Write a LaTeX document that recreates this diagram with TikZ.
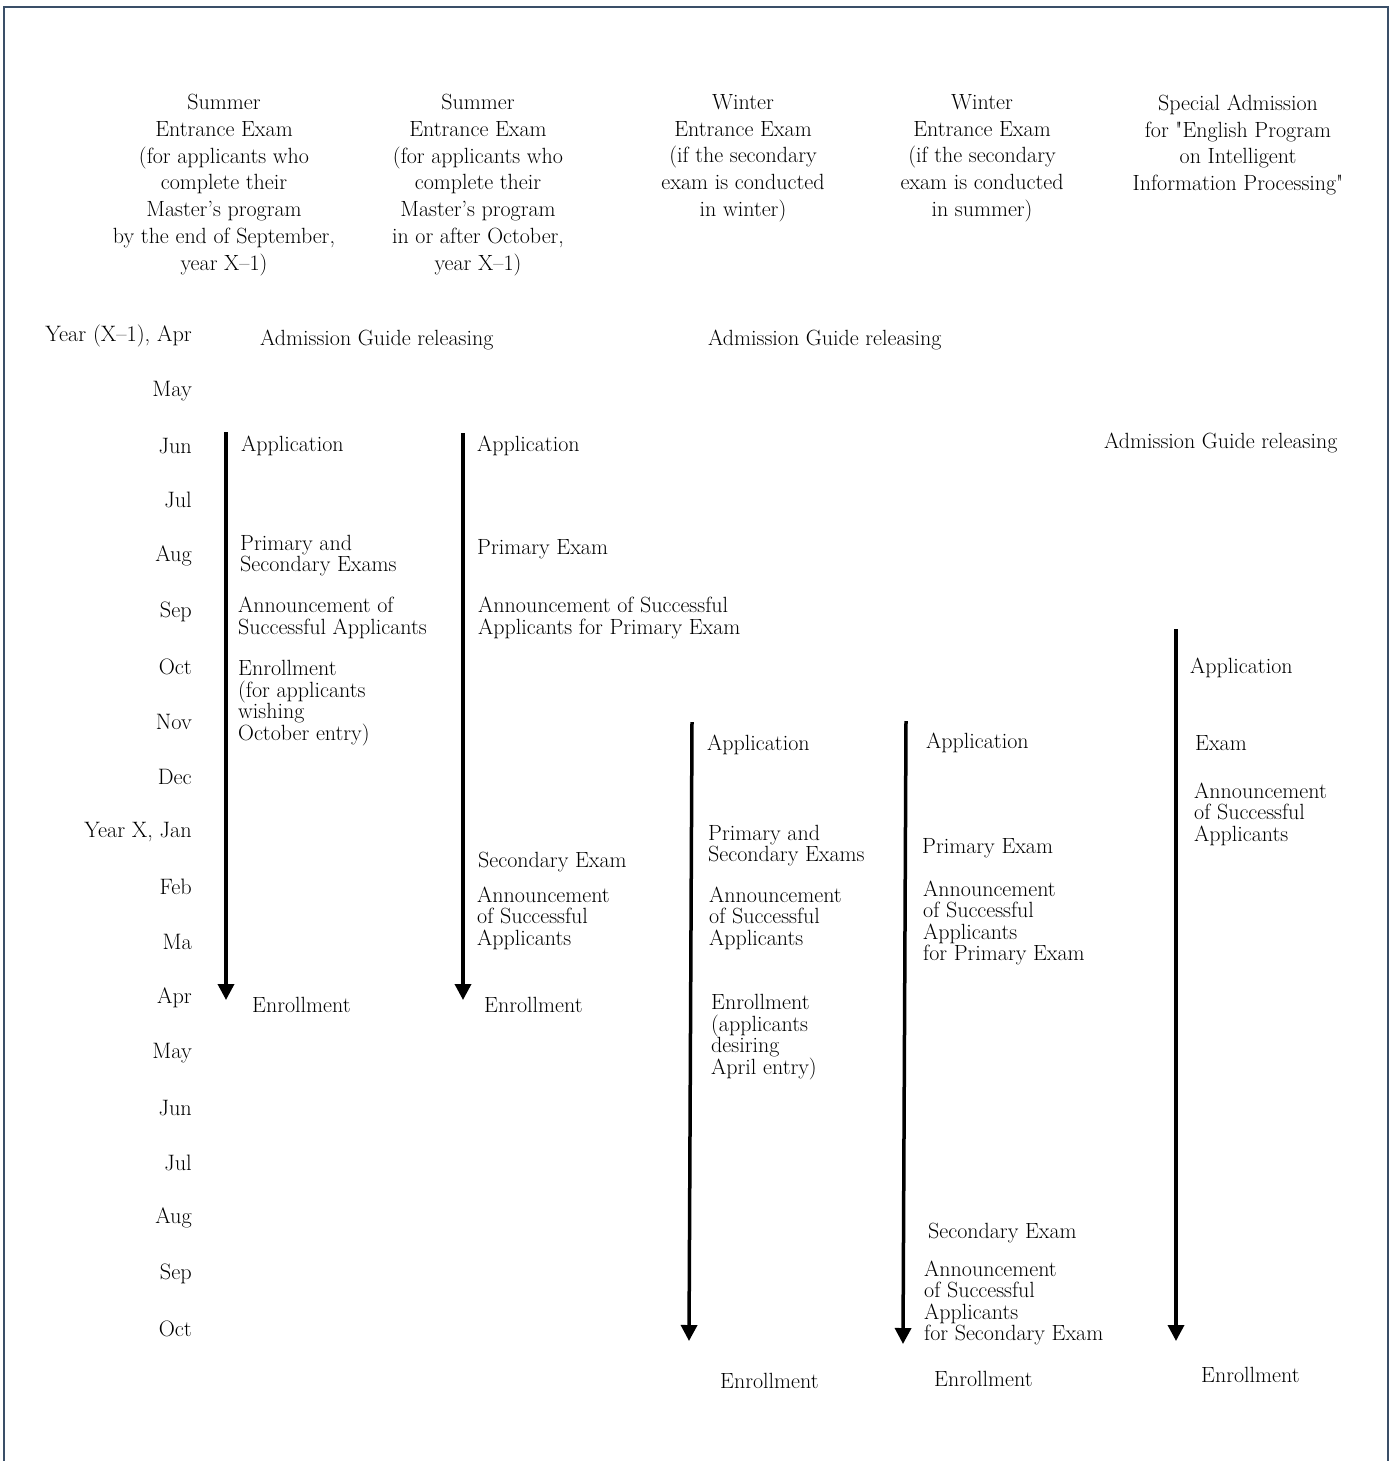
\documentclass[tikz,border=0pt]{standalone}
\usetikzlibrary{arrows.meta}
\definecolor{frame}{HTML}{3A4F68}
\begin{document}
\begin{tikzpicture}[x=1pt,y=-1pt,
  head/.style={align=center,inner sep=0pt,font=\fontsize{22}{26.7}\selectfont},
  month/.style={anchor=east,inner sep=0pt,font=\fontsize{22.3}{24}\selectfont},
  ev/.style={anchor=west,align=left,inner sep=0pt,font=\fontsize{22}{21.6}\selectfont},
  flow/.style={line width=3.5pt,-{Triangle[width=16pt,length=16pt]}}]
\useasboundingbox (0,0) rectangle (1394,1461);
\draw[frame,line width=2pt] (3.5,1461) -- (3.5,7) -- (1388,7) -- (1388,1461);

% headers
\node[head] (h1) at (224,185) {Summer\\Entrance Exam\\(for applicants who\\complete their\\Master's program\\by the end of September,\\year X--1)};
\node[head] (h2) at (478,185) {Summer\\Entrance Exam\\(for applicants who\\complete their\\Master's program\\in or after October,\\year X--1)};
\node[head] (h3) at (743,158) {Winter\\Entrance Exam\\(if the secondary\\exam is conducted\\in winter)};
\node[head] (h4) at (982,158) {Winter\\Entrance Exam\\(if the secondary\\exam is conducted\\in summer)};
\node[head] (h5) at (1238,145) {Special Admission\\for \textquotedbl English Program\\on Intelligent\\Information Processing\textquotedbl};

% months
\node[month] (m1) at (192,336) {Year (X--1), Apr};
\node[month] (m2) at (192,391) {May};
\node[month] (m3) at (192,446) {Jun};
\node[month] (m4) at (192,500) {Jul};
\node[month] (m5) at (192,556) {Aug};
\node[month] (m6) at (192,612) {Sep};
\node[month] (m7) at (192,667) {Oct};
\node[month] (m8) at (192,722) {Nov};
\node[month] (m9) at (192,777) {Dec};
\node[month] (m10) at (192,832) {Year X, Jan};
\node[month] (m11) at (192,887) {Feb};
\node[month] (m12) at (192,942) {Ma};
\node[month] (m13) at (192,998) {Apr};
\node[month] (m14) at (192,1053) {May};
\node[month] (m15) at (192,1108) {Jun};
\node[month] (m16) at (192,1163) {Jul};
\node[month] (m17) at (192,1218) {Aug};
\node[month] (m18) at (192,1274) {Sep};
\node[month] (m19) at (192,1329) {Oct};

% guides
\node[ev] (g1) at (260,340) {Admission Guide releasing};
\node[ev] (g2) at (708,340) {Admission Guide releasing};
\node[ev] (g3) at (1104,443) {Admission Guide releasing};

% arrows
\coordinate (a1s) at (226,432); \coordinate (a1e) at (226,1000);
\coordinate (a2s) at (463,433); \coordinate (a2e) at (463,1000);
\coordinate (a3s) at (692,722); \coordinate (a3e) at (689,1341);
\coordinate (a4s) at (906,721); \coordinate (a4e) at (903,1344);
\coordinate (a5s) at (1176,629); \coordinate (a5e) at (1176,1341);
\draw[flow] (a1s) -- (a1e);
\draw[flow] (a2s) -- (a2e);
\draw[flow] (a3s) -- (a3e);
\draw[flow] (a4s) -- (a4e);
\draw[flow] (a5s) -- (a5e);

% column 1
\node[ev] (c1a) at (241,446) {Application};
\node[ev] (c1b) at (240,555.5) {Primary and\\Secondary Exams};
\node[ev] (c1c) at (238,618) {Announcement of\\Successful Applicants};
\node[ev] (c1d) at (238,703) {Enrollment\\(for applicants\\wishing\\October entry)};
\node[ev] (c1e) at (252,1005) {Enrollment};

% column 2
\node[ev] (c2a) at (477,446) {Application};
\node[ev] (c2b) at (477,549) {Primary Exam};
\node[ev] (c2c) at (478,618) {Announcement of Successful\\Applicants for Primary Exam};
\node[ev] (c2d) at (478,862) {Secondary Exam};
\node[ev] (c2e) at (477,918) {Announcement\\of Successful\\Applicants};
\node[ev] (c2f) at (484,1005) {Enrollment};

% column 3
\node[ev] (c3a) at (707,745) {Application};
\node[ev] (c3b) at (708,845.5) {Primary and\\Secondary Exams};
\node[ev] (c3c) at (709,918) {Announcement\\of Successful\\Applicants};
\node[ev] (c3d) at (711,1037) {Enrollment\\(applicants\\desiring\\April entry)};
\node[ev] (c3e) at (720,1381) {Enrollment};

% column 4
\node[ev] (c4a) at (926,743) {Application};
\node[ev] (c4b) at (922,848) {Primary Exam};
\node[ev] (c4c) at (923,923) {Announcement\\of Successful\\Applicants\\for Primary Exam};
\node[ev] (c4d) at (928,1233) {Secondary Exam};
\node[ev] (c4e) at (924,1303) {Announcement\\of Successful\\Applicants\\for Secondary Exam};
\node[ev] (c4f) at (934,1379) {Enrollment};

% column 5
\node[ev] (c5a) at (1190,668) {Application};
\node[ev] (c5b) at (1195,743) {Exam};
\node[ev] (c5c) at (1194,814) {Announcement\\of Successful\\Applicants};
\node[ev] (c5d) at (1201,1375) {Enrollment};
\end{tikzpicture}
\end{document}
